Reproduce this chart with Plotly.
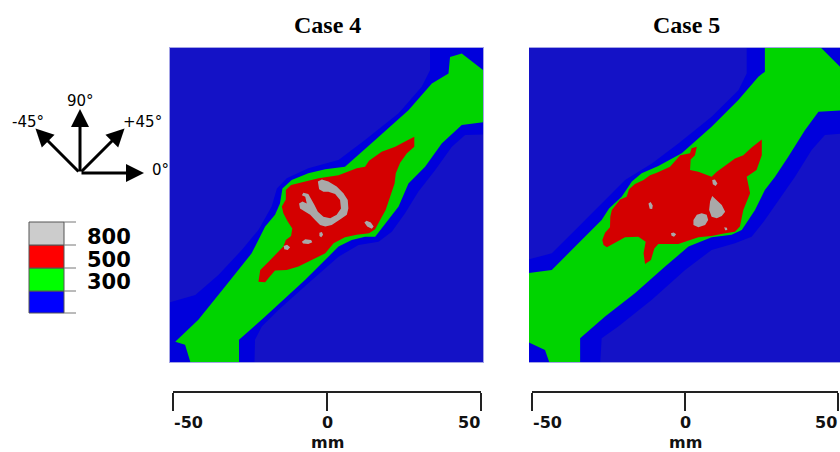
import math
import plotly.graph_objects as go

W, H = 840, 452

# ---------------- data ----------------
# damage classes shown in the key (lower bounds of the classes)
LEVELS = [300, 500, 800]
KEY_COLORS = ["#0000ff", "#00ff00", "#ff0000", "#cccccc"]  # <300, 300-500, 500-800, >800
MAP_BG = "#1412c6"
MAP_BAND = "#0000dc"
MAP_GREEN = "#00d400"
MAP_RED = "#d40000"
MAP_GRAY = "#a9a9a9"

SCALE_TICKS = [-50, 0, 50]
PANEL_TITLES = ["Case 4", "Case 5"]
COMPASS = [("90°", 90), ("0°", 0), ("+45°", 45), ("-45°", 135)]

# ---- Case 4 region outlines (mm) ----
C4_BAND_X = [-52, -42.8, -35.3, -27.7, -22.3, -18.0, -16.3, -13.1, -6.1, 3.7, 12.3, 23.2, 30.7, 33.4, 33.4,
             52, 52, 44.8, 40.5, 35.1, 29.6, 25.3, 21.0, 16.7, 10.2, 3.7, -6.1, -15.8, -21.2, -23.4, -23.6, -52]
C4_BAND_Y = [-31.9, -29.2, -22.7, -14.6, -8.1, -0.5, 5.4, 8.7, 11.9, 14.6, 21.1, 29.8, 38.4, 43.8, 52,
             52, 23.0, 22.7, 18.9, 11.4, 4.3, -2.7, -8.7, -11.9, -13.0, -16.8, -25.4, -34.1, -39.5, -43.8, -52, -52]

C4_GREEN_X = [-44.1, -46.1, -49.3, -41.8, -33.1, -24.5, -20.1, -16.9, -15.3, -14.5, -11.5, -6.1, -0.6, 5.8, 15.6,
              26.4, 34.0, 39.4, 39.9, 43.7, 52, 52, 43.7, 37.2, 31.8, 26.4, 23.2, 19.9, 15.6, 12.3, 8.0, 3.7,
              0.4, -7.1, -20.1, -28.6, -28.6]
C4_GREEN_Y = [-52, -45.4, -44.4, -37.3, -26.5, -15.7, -7.0, -3.2, 0.5, 5.4, 8.1, 10.3, 11.6, 12.4, 21.1,
              30.8, 39.5, 42.7, 48.1, 49.2, 42.8, 27.1, 26.0, 20.0, 12.4, 7.0, -0.5, -4.9, -10.3, -10.3, -11.4, -13.5,
              -16.8, -24.3, -36.2, -43.8, -52]

C4_RED_X = [-22.3, -21.7, -19.0, -16.3, -14.2, -13.4, -11.7, -11.3, -12.8, -14.2, -14.7, -13.4, -13.4, -11.7,
            -7.1, -2.8, 3.7, 7.5, 9.6, 12.3, 13.6, 17.7, 22.1, 25.3, 28.3, 28.3, 25.9, 23.7, 22.3, 21.9, 20.4,
            19.0, 17.2, 15.6, 13.6, 9.6, 5.8, 2.1, -0.6, -5.0, -9.3, -13.1, -16.9, -18.8, -20.1]
C4_RED_Y = [-24.9, -21.1, -18.4, -15.7, -13.5, -11.4, -10.1, -7.6, -5.4, -2.7, -0.5, 1.8, 4.9, 6.5,
            7.6, 8.7, 9.7, 11.1, 11.9, 12.4, 14.4, 17.3, 18.9, 20.6, 22.2, 18.9, 16.8, 13.7, 10.3, 7.0, 2.7,
            -1.6, -4.9, -7.9, -9.2, -9.7, -10.5, -12.4, -15.7, -17.9, -20.0, -21.1, -21.3, -23.5, -25.1]

C4_GRAY_X = [-3.0, -1.7, 0.4, 3.1, 5.3, 6.7, 6.9, 6.4, 4.8, 3.1, 1.5, -0.6, -2.3, -3.9, -5.5, -7.1, -8.8, -9.1,
             -8.0, -6.6, -7.1, -8.2, -7.7, -6.1, -5.0, -4.1, -3.0, -1.2, 1.0, 3.1, 4.5, 4.2, 2.6, 0.4, -1.2, -2.6,
             None, 12.1, 12.8, 14.2, 15.1, 14.5, 13.0,
             None, -8.2, -7.1, -5.2, -4.8, -6.1, -7.8,
             None, -2.5, -1.7, -1.3, -1.9, -2.5,
             None, -14.1, -13.0, -12.0, -12.8, -13.9]
C4_GRAY_Y = [7.6, 8.3, 7.6, 6.0, 3.8, 1.6, -1.1, -3.2, -4.3, -5.4, -6.5, -7.0, -6.5, -4.9, -3.2, -2.2, -1.1, 0.5,
             1.1, 0.5, 2.7, 3.2, 4.0, 3.6, 1.8, 0.0, -2.2, -3.8, -4.3, -3.2, -1.1, 1.6, 3.6, 4.3, 4.3, 5.1,
             None, -5.7, -5.1, -5.7, -7.0, -7.7, -7.0,
             None, -11.9, -11.1, -11.4, -12.1, -12.7, -12.5,
             None, -9.0, -8.8, -9.7, -10.5, -10.1,
             None, -13.3, -12.9, -13.7, -14.6, -14.4]

# ---- Case 5 region outlines (mm) ----
C5_BAND_X = [-52, -43.6, -36.0, -27.4, -19.8, -11.1, -2.5, 8.3, 17.0, 19.7, 19.7, 52, 52, 45.1, 40.8, 35.4,
             30.0, 25.6, 21.3, 15.9, 8.3, -0.3, -11.1, -22.0, -27.4, -27.9, -52]
C5_BAND_Y = [-17.9, -15.7, -8.1, 0.5, 8.1, 13.5, 20.0, 28.7, 37.3, 42.7, 52, 52, 23.3, 22.7, 17.9, 9.2,
             1.6, -4.9, -10.3, -12.4, -14.6, -21.1, -30.8, -39.5, -43.3, -52, -52]

C5_GREEN_X = [-52, -43.6, -36.0, -27.4, -25.0, -20.9, -17.6, -14.4, -9.0, -1.4, 8.3, 17.0, 23.5, 25.6, 25.6,
              42.9, 52, 52, 43.0, 38.6, 33.2, 28.9, 25.6, 22.4, 18.1, 14.8, 8.3, 0.8, -6.8, -16.6, -26.3,
              -34.4, -34.4, -44.1, -45.8, -52]
C5_GREEN_Y = [-22.2, -21.1, -13.5, -4.9, -1.1, 2.7, 7.6, 10.3, 12.7, 16.8, 25.4, 34.1, 41.7, 43.3, 52,
              52, 42.9, 30.8, 30.3, 24.3, 15.7, 9.2, 4.9, -1.6, -8.1, -9.7, -10.5, -13.5, -20.0, -28.7, -36.2,
              -43.3, -52, -52, -47.1, -44.2]

C5_RED_X = [-27.2, -26.3, -24.7, -24.6, -24.1, -21.4, -19.3, -18.5, -16.6, -13.8, -11.7, -9.5, -5.2, -1.9,
            1.3, 1.8, 3.5, 2.9, 1.5, 1.3, 4.0, 8.3, 10.0, 13.2, 15.9, 18.6, 21.3, 24.6, 24.6, 22.9, 19.7,
            20.8, 18.6, 17.5, 15.9, 12.7, 8.3, 4.0, 0.8, -2.5, -6.8, -9.0, -10.3, -11.4, -13.3, -13.8,
            -13.1, -15.5, -19.8, -23.0, -25.7, -26.8]
C5_RED_Y = [-11.4, -9.0, -7.2, -3.8, -1.6, 1.8, 2.7, 5.1, 6.8, 8.1, 9.7, 10.5, 12.4, 16.2,
            16.8, 18.4, 18.9, 16.2, 14.8, 11.4, 10.8, 9.2, 10.8, 13.0, 15.1, 16.2, 18.7, 21.3, 16.2, 11.4, 9.2,
            3.8, -1.6, -7.0, -8.7, -9.2, -10.1, -10.5, -11.6, -12.7, -12.7, -12.7, -14.1, -17.9, -19.2, -15.7,
            -11.9, -10.3, -10.5, -12.2, -13.7, -13.0]

C5_GRAY_X = [-12.2, -11.5, -10.8, -11.0, -11.8,
             None, -4.9, -4.0, -3.2, -3.9, -4.7,
             None, 8.5, 9.4, 10.2, 9.6, 8.7,
             None, 8.5, 10.0, 11.6, 12.7, 11.6, 10.0, 8.3, 7.5, 7.8,
             None, 2.4, 3.5, 5.1, 6.7, 7.2, 6.2, 4.0, 2.4,
             None, 12.4, 13.3, 13.4, 12.7]
C5_GRAY_Y = [0.5, 1.0, -0.2, -1.3, -1.2,
             None, -9.2, -8.9, -9.5, -10.3, -10.0,
             None, 8.1, 8.3, 7.0, 6.2, 6.7,
             None, 2.9, 1.6, 0.0, -2.2, -3.6, -4.3, -3.8, -1.6, 1.1,
             None, -4.9, -3.2, -2.7, -3.2, -4.9, -6.5, -7.2, -6.5,
             None, -7.2, -7.4, -8.1, -8.2]

# ---------------- figure ----------------
def px(x):
    return x / W


def py(y):
    return 1 - y / H


fig = go.Figure()


def region(xs, ys, color, ax):
    fig.add_trace(go.Scatter(x=xs, y=ys, mode="lines", fill="toself", fillcolor=color,
                             line=dict(width=0, color=color), hoverinfo="skip",
                             xaxis="x" + ax, yaxis="y" + ax, showlegend=False))


for ax, parts in [("", [(C4_BAND_X, C4_BAND_Y, MAP_BAND), (C4_GREEN_X, C4_GREEN_Y, MAP_GREEN),
                       (C4_RED_X, C4_RED_Y, MAP_RED), (C4_GRAY_X, C4_GRAY_Y, MAP_GRAY)]),
                  ("2", [(C5_BAND_X, C5_BAND_Y, MAP_BAND), (C5_GREEN_X, C5_GREEN_Y, MAP_GREEN),
                         (C5_RED_X, C5_RED_Y, MAP_RED), (C5_GRAY_X, C5_GRAY_Y, MAP_GRAY)])]:
    for xs, ys, c in parts:
        region(xs, ys, c, ax)

# empty traces for the scale-bar axes
for ax in ["3", "4"]:
    fig.add_trace(go.Scatter(x=[], y=[], xaxis="x" + ax, yaxis="y" + ax, showlegend=False))

frame = dict(showgrid=False, zeroline=False, showticklabels=False, ticks="",
             showline=True, linecolor="#a4a4e6", linewidth=1, mirror=True)
map_y_dom = [py(362), py(48)]
scale_tick = dict(showgrid=False, zeroline=False, showticklabels=False, showline=True,
                  linecolor="#222222", linewidth=2, ticks="outside", ticklen=18, tickwidth=2,
                  tickcolor="#222222", tickvals=SCALE_TICKS, range=[-50, 50], side="bottom")
hidden = dict(visible=False, range=[0, 1])

fig.update_layout(
    width=W, height=H, margin=dict(l=0, r=0, t=0, b=0),
    paper_bgcolor="white", plot_bgcolor="white",
    xaxis=dict(domain=[px(170), px(483)], range=[-51.0, 50.6], **frame),
    yaxis=dict(domain=map_y_dom, range=[-51.0, 51.0], **frame),
    xaxis2=dict(domain=[px(529), 1.0], range=[-51.0, 50.0], **frame),
    yaxis2=dict(domain=map_y_dom, range=[-51.0, 51.0], **frame),
    xaxis3=dict(domain=[px(173), px(481)], anchor="y3", **scale_tick),
    yaxis3=dict(domain=[py(391), py(380)], anchor="x3", **hidden),
    xaxis4=dict(domain=[px(532), px(838)], anchor="y4", **scale_tick),
    yaxis4=dict(domain=[py(391), py(380)], anchor="x4", **hidden),
)

shapes = []
for ax in ["", "2"]:
    shapes.append(dict(type="rect", xref="x" + ax + " domain", yref="y" + ax + " domain",
                       x0=0, x1=1, y0=0, y1=1, fillcolor=MAP_BG, line=dict(width=0), layer="below"))

# colour key
key_edges = [313, 291, 268, 245, 222]
for i, c in enumerate(KEY_COLORS):
    shapes.append(dict(type="rect", xref="paper", yref="paper", x0=px(29), x1=px(64),
                       y0=py(key_edges[i]), y1=py(key_edges[i + 1]), fillcolor=c,
                       line=dict(width=1, color="#555555")))
for e in key_edges:
    shapes.append(dict(type="line", xref="paper", yref="paper", x0=px(64), x1=px(76),
                       y0=py(e), y1=py(e), line=dict(width=1, color="#777777")))
fig.update_layout(shapes=shapes)

ann = []
for lv, yc in zip(LEVELS, [282, 260, 237]):
    ann.append(dict(text=str(lv), xref="paper", yref="paper", x=px(86), y=py(yc), xanchor="left",
                    yanchor="middle", showarrow=False, borderpad=0,
                    font=dict(family="DejaVu Sans", size=21, color="black", weight="bold")))

# titles
for t, xc in zip(PANEL_TITLES, [327, 686]):
    ann.append(dict(text=t, xref="paper", yref="paper", x=px(xc), y=py(25), xanchor="center",
                    yanchor="middle", showarrow=False,
                    font=dict(family="Liberation Serif", size=24, color="black", weight="bold")))

# scale-bar labels
sfont = dict(family="DejaVu Sans", size=16, color="#111111", weight="bold")
for xr in ["x3", "x4"]:
    for v, anc in zip(SCALE_TICKS, ["left", "center", "right"]):
        ann.append(dict(text=str(v), xref=xr, yref="paper", x=v, y=py(422), xanchor=anc,
                        yanchor="middle", showarrow=False, borderpad=0, font=sfont))
    ann.append(dict(text="mm", xref=xr, yref="paper", x=0, y=py(442), xanchor="center",
                    yanchor="middle", showarrow=False, borderpad=0, font=sfont))

# orientation compass
ox, oy, L = 80, 173, 64
cfont = dict(family="DejaVu Sans", size=15, color="black")
label_pos = {"90°": (80, 101, "center"), "0°": (150, 170, "left"),
             "+45°": (142, 122, "center"), "-45°": (28, 122, "center")}
for lab, ang in COMPASS:
    a = math.radians(ang)
    Ls = L if ang in (0, 90) else 63
    tx, ty = ox + Ls * math.cos(a), oy - Ls * math.sin(a)
    ann.append(dict(text="", xref="paper", yref="paper", x=px(tx), y=py(ty),
                    ax=ox - tx, ay=oy - ty, axref="pixel", ayref="pixel",
                    showarrow=True, arrowhead=2, arrowsize=1.2, arrowwidth=3, arrowcolor="black",
                    standoff=0, startstandoff=0))
    lx, ly, anc = label_pos[lab]
    ann.append(dict(text=lab, xref="paper", yref="paper", x=px(lx), y=py(ly), xanchor=anc,
                    yanchor="middle", showarrow=False, font=cfont))

fig.update_layout(annotations=ann)
fig.write_html("out.html", config={"displayModeBar": False, "staticPlot": True},
               post_script="document.body.style.margin='0px';document.body.style.overflow='hidden';")
